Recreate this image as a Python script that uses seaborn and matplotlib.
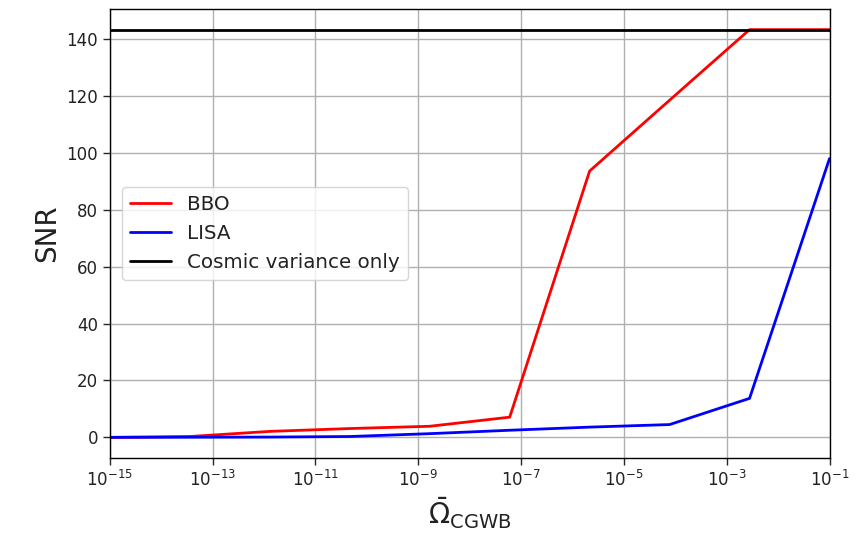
import numpy as np
import pandas as pd
import matplotlib
matplotlib.use("Agg")
import matplotlib.pyplot as plt
import seaborn as sns

# Data
log_omega = [-15.0, -13.444, -11.889, -10.333, -8.778, -7.222, -5.667, -4.111, -2.556, -1.0]
snr_bbo = [0.0, 0.3, 2.1, 3.1, 3.9, 7.1, 93.6, 118.5, 143.3, 143.3]
snr_lisa = [0.0, 0.05, 0.1, 0.3, 1.3, 2.5, 3.6, 4.5, 13.7, 98.0]
cosmic_variance = 143.3
series_names = ["BBO", "LISA", "Cosmic variance only"]
series_colors = ["red", "blue", "black"]

omega = [10.0 ** v for v in log_omega]
df = pd.DataFrame({
    "omega": omega * 3,
    "snr": snr_bbo + snr_lisa + [cosmic_variance] * len(omega),
    "series": [series_names[0]] * len(omega) + [series_names[1]] * len(omega)
              + [series_names[2]] * len(omega),
})

sns.set_style("ticks")
plt.rcParams["font.family"] = ["DejaVu Sans"]

fig, ax = plt.subplots(figsize=(8.65, 5.43), dpi=100)
sns.lineplot(data=df, x="omega", y="snr", hue="series",
             palette=dict(zip(series_names, series_colors)), linewidth=2, ax=ax)
ax.set_xscale("log")
ax.set_xlim(1e-15, 1e-1)
ax.set_xticks([10.0 ** k for k in range(-15, 0, 2)])
ax.xaxis.set_minor_locator(matplotlib.ticker.NullLocator())
ax.set_yticks(range(0, 141, 20))
ax.grid(True, color="#b0b0b0", linewidth=1)
ax.tick_params(labelsize=12, length=5, width=1, labelcolor="#222222")
for s in ax.spines.values():
    s.set_visible(True)
    s.set_color("black")
    s.set_linewidth(1)
ax.set_xlabel(r"$\bar{\Omega}_{\rm CGWB}$", fontsize=20, color="#222222")
ax.set_ylabel("SNR", fontsize=20, color="#222222")
leg = ax.legend(loc="center left", fontsize=14.3, title=None, handlelength=2.1,
                borderaxespad=0.6)
for t in leg.get_texts():
    t.set_color("#222222")
fig.subplots_adjust(left=0.127, right=0.959, top=0.983, bottom=0.157)
fig.savefig("out.png", dpi=100)
